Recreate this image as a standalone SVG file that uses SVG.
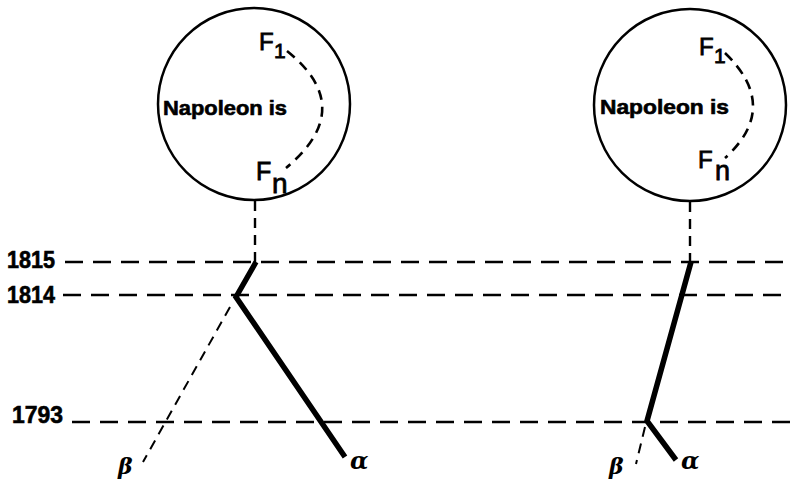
<svg xmlns="http://www.w3.org/2000/svg" width="790" height="479" viewBox="0 0 790 479">
<style>
.circ{fill:none;stroke:#000;stroke-width:2.5}
.hl{fill:none;stroke:#000;stroke-width:2.6;stroke-dasharray:18 10}
.vl{fill:none;stroke:#000;stroke-width:2.4;stroke-dasharray:10 7}
.arc{fill:none;stroke:#000;stroke-width:2.6;stroke-dasharray:10 7}
.thick{fill:none;stroke:#000;stroke-width:5.5;stroke-linejoin:miter;stroke-linecap:butt}
.thin{fill:none;stroke:#000;stroke-width:2;stroke-dasharray:10 7}
.lab{font-family:"Liberation Sans",Arial,sans-serif;font-weight:bold;fill:#000;stroke:#000;stroke-width:0.6}
.f{font-family:"Liberation Sans",Arial,sans-serif;fill:#000;stroke:#000;stroke-width:0.8}
.gr{font-family:"DejaVu Serif","Liberation Serif",serif;font-style:italic;font-weight:bold;fill:#000}
</style>
<rect width="790" height="479" fill="#fff"/>
<g id="world-left">
<circle class="circ" cx="254" cy="104" r="96"/>
<text class="lab" x="163" y="115" font-size="20" textLength="124" lengthAdjust="spacingAndGlyphs">Napoleon is</text>
<text class="f" x="259" y="50" font-size="24">F</text>
<text class="f" x="274" y="58" font-size="21">1</text>
<text class="f" x="256" y="180" font-size="25">F</text>
<text class="f" x="272" y="193" font-size="28">n</text>
<path class="arc" d="M287 51 Q358 108 286 168"/>
</g>
<g id="world-right">
<circle class="circ" cx="690" cy="105" r="96"/>
<text class="lab" x="600" y="114" font-size="20" textLength="129" lengthAdjust="spacingAndGlyphs">Napoleon is</text>
<text class="f" x="699" y="55" font-size="24">F</text>
<text class="f" x="714" y="63" font-size="21">1</text>
<text class="f" x="698" y="168" font-size="24">F</text>
<text class="f" x="715" y="180" font-size="27">n</text>
<path class="arc" d="M725 53 Q781 107 725 158"/>
</g>
<g id="timeline">
<text class="lab" x="7" y="268" font-size="23" textLength="48" lengthAdjust="spacingAndGlyphs">1815</text>
<text class="lab" x="7" y="303" font-size="24" textLength="48" lengthAdjust="spacingAndGlyphs">1814</text>
<text class="lab" x="12" y="423" font-size="24" textLength="51" lengthAdjust="spacingAndGlyphs">1793</text>
<line class="hl" x1="65" y1="262" x2="790" y2="262"/>
<line class="hl" x1="63" y1="295" x2="790" y2="295"/>
<line class="hl" x1="72" y1="422" x2="790" y2="422"/>
</g>
<g id="connectors">
<line class="vl" x1="255" y1="201" x2="255" y2="262"/>
<line class="vl" x1="690" y1="202" x2="690" y2="262"/>
<polyline class="thick" points="256,262 236,297 345,457"/>
<line class="thin" x1="230" y1="307" x2="143" y2="462"/>
<polyline class="thick" points="691,262 647,421 676,460"/>
<line class="thin" x1="645" y1="427" x2="636" y2="464"/>
</g>
<g id="labels">
<text class="gr" x="118" y="474" font-size="22">β</text>
<text class="gr" x="350" y="469" font-size="24">α</text>
<text class="gr" x="609" y="474" font-size="22">β</text>
<text class="gr" x="681" y="469" font-size="24">α</text>
</g>
</svg>
